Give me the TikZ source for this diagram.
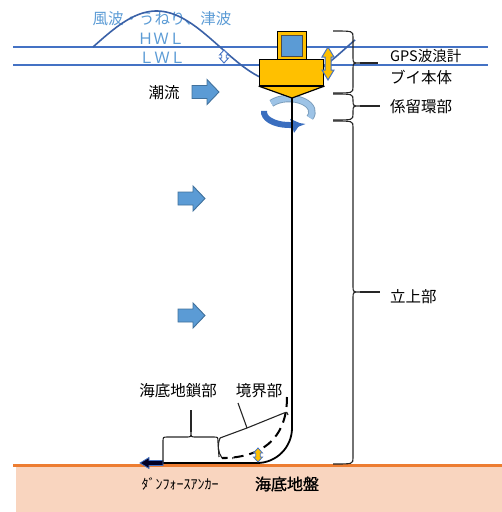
\documentclass[tikz,border=0pt]{standalone}
\usepackage{fontspec}
\newfontfamily\jp{Noto Sans CJK JP}
\newfontfamily\jpheavy{Noto Sans CJK JP}[FakeBold=1.2]
\usetikzlibrary{arrows.meta}

\definecolor{buoyorange}{HTML}{FFC000}
\definecolor{seablue}{HTML}{4472C4}
\definecolor{lightblue}{HTML}{5B9BD5}
\definecolor{flowedge}{HTML}{41719C}
\definecolor{ringlight}{HTML}{9DC3E6}
\definecolor{ringdark}{HTML}{3A6EBF}
\definecolor{seabedfill}{HTML}{F9D5BF}
\definecolor{seabedline}{HTML}{ED7D31}

\tikzset{
  lbl/.style={font=\jp\fontsize{15.5}{18}\selectfont, inner sep=0pt},
  wavelbl/.style={lbl, text=lightblue},
  level/.style={draw=seablue, line width=1.4pt},
  waveline/.style={draw=seablue!85!black, line width=1.6pt},
  bracepath/.style={draw=black!85, line width=1.1pt},
  chain/.style={draw=black, line width=1.8pt},
  chainalt/.style={draw=black, line width=2pt, dash pattern=on 10pt off 6pt},
  flowarrow/.style={fill=lightblue, draw=flowedge, line width=0.9pt, line join=miter},
  pics/flowarrow/.style={code={
    \path[pic actions] (0,-6.5) -- (15,-6.5) -- (15,-12.5) -- (27,0)
      -- (15,12.5) -- (15,6.5) -- (0,6.5) -- cycle;}},
  % vertical double-headed block arrow: length, half width, head length
  pics/vdarrow/.style n args={3}{code={
    \path[pic actions] (-#2/2,#3) -- (-#2,#3) -- (0,0) -- (#2,#3) -- (#2/2,#3)
      -- (#2/2,#1-#3) -- (#2,#1-#3) -- (0,#1) -- (-#2,#1-#3) -- (-#2/2,#1-#3) -- cycle;}},
}

% right-hand curly brace: x of curl ends, x of spine, x of tip, top, tip, bottom, end of pointer
\newcommand\sidebrace[7]{%
  \draw[bracepath] (#1,#4) .. controls (#2,#4) and (#2,#4) .. (#2,#4+6)
    -- (#2,#5-6) .. controls (#2,#5) and (#2,#5) .. (#3,#5)
    .. controls (#2,#5) and (#2,#5) .. (#2,#5+6)
    -- (#2,#6-6) .. controls (#2,#6) and (#2,#6) .. (#1,#6);
  \draw[bracepath] (#3,#5) -- (#7,#5);}

\begin{document}
\begin{tikzpicture}[x=1pt,y=-1pt]
\useasboundingbox (0,0) rectangle (502,512);

% seabed
\fill[seabedfill] (16,466) rectangle (502,512);
\draw[seabedline, line width=2.4pt] (13,465.5) -- (502,465.5);

% water levels
\draw[level] (13,47) -- (488,47);
\draw[level] (13,65) -- (488,65);

% wave labels
\node[wavelbl] (wavetxt) at (162,19) {風波・うねり、津波};
\node[wavelbl] (hwl) at (161,39) {ＨＷＬ};
\node[wavelbl] (lwl) at (162,58) {ＬＷＬ};

% wave
\draw[waveline] plot[domain=93:355, samples=90] (\x, {47-36*sin((\x-93)/127*180)});

% level change marker
\pic[fill=white, draw=seablue, line width=0.9pt] at (224,50) {vdarrow={13}{4.5}{5}};

% tidal current
\node[lbl] (tide) at (164,93) {潮流};
\pic[flowarrow] at (192,92) {flowarrow};
\pic[flowarrow] at (178,198.5) {flowarrow};
\pic[flowarrow] at (178,315.5) {flowarrow};

% buoy
\node[draw=black, fill=buoyorange, line width=1.2pt, minimum width=29pt, minimum height=28pt,
  anchor=north west, inner sep=0pt] (gps) at (277,31) {};
\node[draw=black!70, fill=lightblue, line width=0.8pt, minimum width=21pt, minimum height=21pt,
  inner sep=0pt] (gpsface) at (gps.center) {};
\node[draw=black, fill=buoyorange, line width=1.2pt, minimum width=64pt, minimum height=26pt,
  anchor=north west, inner sep=0pt] (body) at (259,59) {};
\coordinate (conetip) at (292,98);

% swivel rotation (back part, seen under the cone)
\coordinate (ringc) at (289,112);
\draw[flowedge!70, line width=7.4pt] (ringc) ++(220:23 and 13.5)
  arc[start angle=220, end angle=385, x radius=23, y radius=13.5];
\draw[ringlight, line width=5.6pt] (ringc) ++(220:23 and 13.5)
  arc[start angle=220, end angle=385, x radius=23, y radius=13.5];

\filldraw[fill=buoyorange, draw=black, line width=1.2pt, line join=round]
  (body.south west) -- (conetip) -- (body.south east) -- cycle;

% swivel rotation (front part)
\draw[ringdark, line width=6pt, -{Triangle[width=14pt,length=9pt]}]
  (ringc) ++(185:25 and 13) arc[start angle=185, end angle=62, x radius=25, y radius=13];

% buoy heave
\pic[fill=buoyorange, draw=seablue, line width=1pt] at (328,47) {vdarrow={33}{6}{10}};

% mooring line (solid) and displaced state (dashed)
\coordinate (bend) at (292,428);
\coordinate (touch) at (257,463);
\coordinate (chainend) at (163,463);
\draw[chain] (conetip) -- (bend) arc[start angle=0, end angle=90, radius=35] -- (chainend);
\coordinate (altstart) at (287,397);
\coordinate (altend) at (222,458);
\draw[chainalt] (altstart) .. controls (287,440) and (260,458) .. (altend) -- (233,458);

% anchor pull
\filldraw[fill=black!85!blue, draw=seablue, line width=0.8pt]
  (chainend) ++(0,-2.5) -- (149,460.5) -- (149,457.5) -- (140,463) -- (149,468.5)
  -- (149,465.5) -- (163,465.5) -- cycle;

% touchdown marker
\pic[fill=buoyorange, draw=seablue, line width=0.8pt] at (258,448) {vdarrow={14}{4.5}{5}};

% right-hand braces and labels
\sidebrace{333}{353}{360}{31}{63}{93}{378}
\sidebrace{333}{353}{360}{94}{106}{120}{380}
\sidebrace{333}{353}{360}{121}{292}{464}{380}
\node[lbl, anchor=west, font=\jp\fontsize{14.5}{17}\selectfont] (gpslbl) at (390,56) {GPS波浪計};
\node[lbl, anchor=west] (bodylbl) at (390,77) {ブイ本体};
\node[lbl, anchor=west] (swivellbl) at (390,106.5) {係留環部};
\node[lbl, anchor=west] (riserlbl) at (390,297) {立上部};

% seabed chain brace
\draw[bracepath] (163,462) -- (163,442) .. controls (163,437) .. (168,437) -- (186,437)
  .. controls (191,437) .. (191,432) .. controls (191,437) .. (196,437) -- (213,437)
  .. controls (218,437) .. (218,442) -- (219,457);
\draw[bracepath] (191,432) -- (191,410);
\node[lbl] (chainlbl) at (178,391) {海底地鎖部};

% boundary brace
\draw[bracepath] (220,438) .. controls (217,446) and (218,452) .. (222,458);
\draw[bracepath] (220,438) -- (247,428) -- (284,413) .. controls (287,412) .. (288,415);
\draw[bracepath] (247,428) -- (238,403);
\node[lbl] (boundlbl) at (259,391) {境界部};

% seabed labels
\node[lbl, font=\jp\fontsize{14}{16}\selectfont] (anchorlbl) at (180,484) {ﾀﾞﾝﾌｫｰｽｱﾝｶｰ};
\node[lbl, font=\jpheavy\fontsize{16}{18}\selectfont] (groundlbl) at (287,484) {海底地盤};
\end{tikzpicture}
\end{document}
